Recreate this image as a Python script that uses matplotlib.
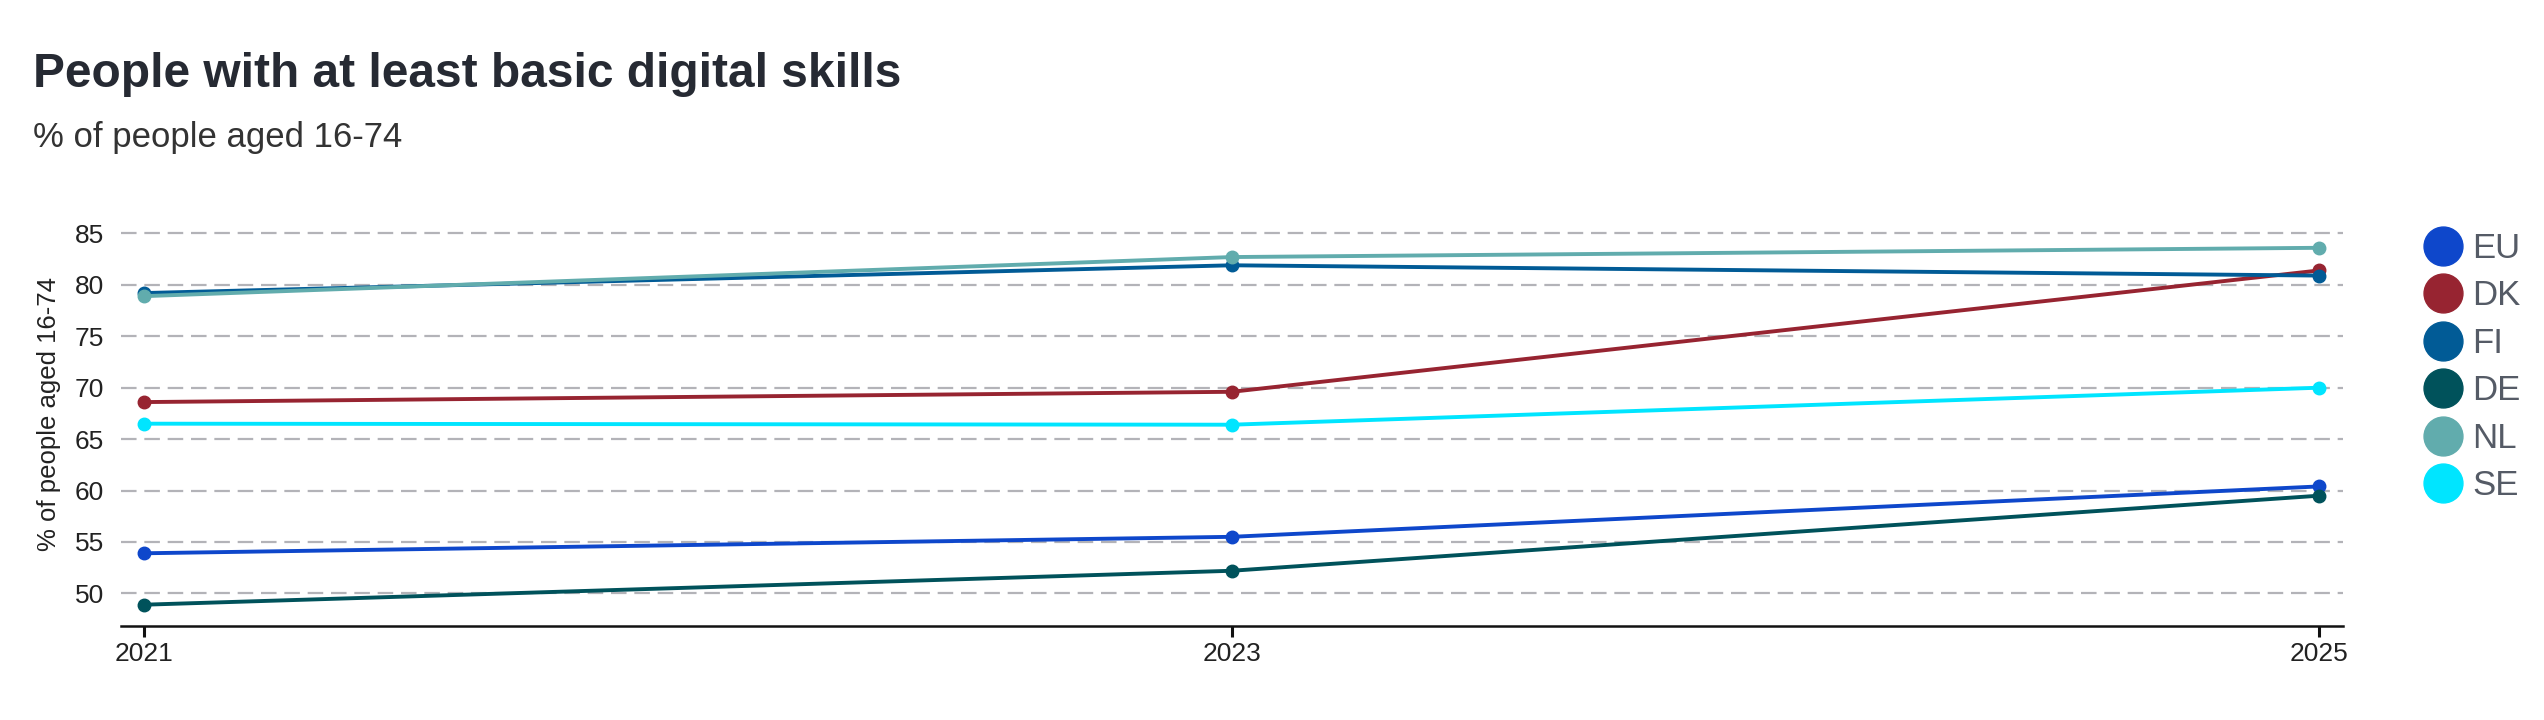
import matplotlib
matplotlib.use("Agg")
import matplotlib.pyplot as plt
from matplotlib.lines import Line2D

plt.rcParams['font.family'] = ['Liberation Sans', 'DejaVu Sans']

# data
years = [2021, 2023, 2025]
countries = ["EU", "DK", "FI", "DE", "NL", "SE"]
eu = [53.9, 55.5, 60.4]
dk = [68.6, 69.6, 81.4]
fi = [79.2, 81.9, 80.9]
de = [48.9, 52.2, 59.5]
nl = [78.9, 82.7, 83.6]
se = [66.5, 66.4, 70.0]
series = [eu, dk, fi, de, nl, se]
colors = ["#0e47cb", "#972431", "#015b96", "#00525b", "#61acad", "#00e5ff"]
yticks = [50, 55, 60, 65, 70, 75, 80, 85]

fig = plt.figure(figsize=(25.44, 7.2), dpi=100)
ax = fig.add_axes([0.04756, 0.131, 0.8733, 0.5884])

for vals, col, name in zip(series, colors, countries):
    ax.plot(years, vals, color=col, linewidth=2.8, marker='o', markersize=9,
            label=name, solid_capstyle='round')

ax.set_xlim(2020.957, 2025.043)
ax.set_ylim(46.86, 88.05)
ax.set_xticks(years)
ax.set_xticklabels([str(y) for y in years])
ax.set_yticks(yticks)

ax.grid(axis='y', color='#b3b3b8', linestyle=(0, (7, 3.5)), linewidth=1.6)
ax.set_axisbelow(True)
for side in ['top', 'right', 'left']:
    ax.spines[side].set_visible(False)
ax.spines['bottom'].set_color('#111111')
ax.spines['bottom'].set_linewidth(1.8)

ax.tick_params(axis='y', length=0, labelsize=19, labelcolor='#222222', pad=12)
ax.tick_params(axis='x', length=8, width=2.2, color='#111111', labelsize=19,
               labelcolor='#222222', pad=4)
ax.set_ylabel("% of people aged 16-74", fontsize=18.5, color='#222222', labelpad=10)

fig.text(0.013, 0.879, "People with at least basic digital skills", fontsize=34.5,
         fontweight='bold', color='#262a33', va='baseline', ha='left')
fig.text(0.013, 0.796, "% of people aged 16-74", fontsize=25, color='#333333',
         va='baseline', ha='left')

handles = [Line2D([], [], linestyle='none', marker='o', markersize=28,
                  markerfacecolor=c, markeredgecolor=c) for c in colors]
leg = fig.legend(handles, countries, loc='upper left', bbox_to_anchor=(0.948, 0.697),
                 frameon=False, fontsize=25, labelspacing=0.415, handlelength=1.0,
                 handletextpad=0.35, borderaxespad=0)
for t in leg.get_texts():
    t.set_color('#555b66')

fig.savefig("out.png", dpi=100)
